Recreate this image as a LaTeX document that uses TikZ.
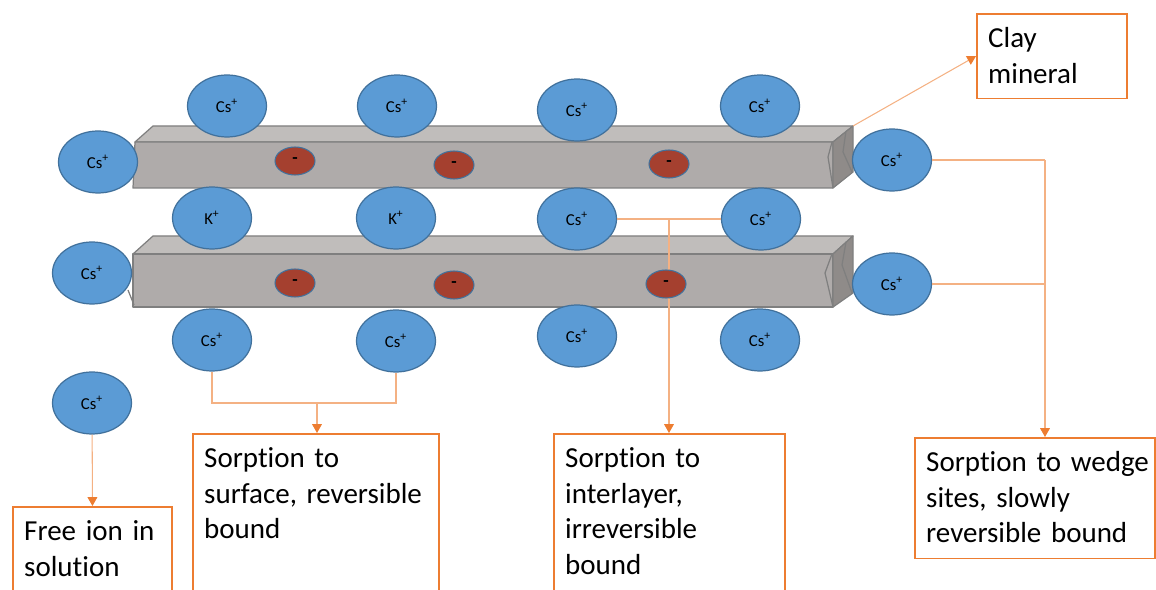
\documentclass[tikz,border=0pt]{standalone}
\usepackage{fontspec}
\setmainfont{Carlito}[Ligatures={NoCommon}]
\usetikzlibrary{arrows.meta, positioning, shapes.geometric}
\definecolor{clBlue}{HTML}{5B9BD5}
\definecolor{clBlueEdge}{HTML}{41719C}
\definecolor{clRust}{HTML}{A5402F}
\definecolor{clOrange}{HTML}{ED7D31}
\definecolor{clPeach}{HTML}{F4B183}
\definecolor{clTop}{HTML}{C0BDBB}
\definecolor{clFront}{HTML}{AFABAA}
\definecolor{clSide}{HTML}{8F8B89}
\definecolor{clEdge}{HTML}{7F7F7F}
\tikzset{
  ion/.style={
    ellipse, draw=clBlueEdge, line width=0.7pt, fill=clBlue,
    minimum width=1.58cm, minimum height=1.24cm, inner sep=0pt,
    font=\fontsize{9.5}{11}\selectfont, text=black
  },
  charge/.style={ellipse, draw=clBlueEdge, line width=0.6pt, fill=clRust,
    minimum width=0.8cm, minimum height=0.56cm, inner sep=0pt,
    font=\bfseries, text=black},
  note/.style={
    draw=clOrange, line width=0.9pt, fill=white, anchor=north west,
    align=left, inner xsep=6.5pt, inner ysep=7pt, text height=12pt,
    font=\fontsize{16.5}{20.4}\selectfont, text=black
  },
  slabline/.style={draw=clEdge, line width=0.7pt, line join=round},
  wire/.style={draw=clPeach, line width=0.6pt},
  flow/.style={wire, -{Triangle[length=5pt, width=5.5pt, color=clOrange]}},
}
\newcommand{\minus}{\raisebox{-2pt}{-}}

\begin{document}
\begin{tikzpicture}[x=0.02cm, y=-0.02cm]
  \useasboundingbox (0,0) rectangle (1156,590);
  \clip (0,0) rectangle (1156,590);

  % upper clay sheet
  \filldraw[slabline, fill=clTop] (135,142) -- (153,126) -- (853,126) -- (833,142) -- cycle;
  \filldraw[slabline, fill=clFront] (135,142) -- (833,142) -- (833,188) -- (133,188) -- cycle;
  \filldraw[slabline, fill=clSide] (833,142) -- (853,126) -- (853,172) -- (833,188) -- cycle;
  \draw[slabline] (832,142) -- (828,157) -- (833,188);
  \draw[slabline] (846,131) -- (843,152) -- (852,172);
  \coordinate (s1ne) at (853,126);

  % lower clay sheet
  \filldraw[slabline, fill=clTop] (133,254) -- (153,236) -- (853,236) -- (833,254) -- cycle;
  \filldraw[slabline, fill=clFront] (133,254) -- (833,254) -- (833,307) -- (133,307) -- cycle;
  \filldraw[slabline, fill=clSide] (833,254) -- (853,236) -- (853,293) -- (833,307) -- cycle;
  \draw[slabline] (832,254) -- (825,273) -- (833,307);
  \draw[slabline] (846,242) -- (842,265) -- (852,293);
  \draw[slabline] (128,290) -- (134,305);

  % boxes
  \node[note, text width=72.6pt, text depth=22.2pt] (clay) at (976,13) {Clay\\mineral};
  \node[note, text width=77.7pt, text depth=27.3pt] (free) at (12,506) {Free ion in\\solution};
  \node[note, text width=127pt, text depth=68.7pt] (surf) at (192,433)
    {Sorption to\\surface, reversible\\bound};
  \node[note, text width=118.5pt, text depth=68.7pt] (inter) at (553,433)
    {Sorption to\\interlayer,\\irreversible\\bound};
  \node[note, text width=123.6pt, text depth=42.6pt] (wedge) at (914,437)
    {Sorption~to~wedge\\sites, slowly\\reversible~bound};

  % connectors
  \coordinate (sj) at (317,403);
  \coordinate (ij) at (669,219);
  \coordinate (wj) at (1045,160);
  \draw[flow] (s1ne) -- (clay.west);
  \draw[flow] (ij) -- (ij |- inter.north);
  \draw[flow] (wj) -- (wj |- wedge.north);

  % layer charges
  \node[charge] (c1) at (295,161) {\minus};
  \node[charge] (c2) at (454,165) {\minus};
  \node[charge] (c3) at (669,164) {\minus};
  \node[charge] (c4) at (295,283) {\minus};
  \node[charge] (c5) at (454,285) {\minus};
  \node[charge] (c6) at (666,284) {\minus};

  % cations
  \node[ion] (t1) at (227,106) {Cs\textsuperscript{+}};
  \node[ion] (t2) at (397,106) {Cs\textsuperscript{+}};
  \node[ion] (t3) at (577,110) {Cs\textsuperscript{+}};
  \node[ion] (t4) at (760,106) {Cs\textsuperscript{+}};
  \node[ion] (l1) at (98,162) {Cs\textsuperscript{+}};
  \node[ion] (r1) at (892,160) {Cs\textsuperscript{+}};
  \node[ion] (m1) at (212,218) {K\textsuperscript{+}};
  \node[ion] (m2) at (396,218) {K\textsuperscript{+}};
  \node[ion] (m3) at (577,219) {Cs\textsuperscript{+}};
  \node[ion] (m4) at (761,219) {Cs\textsuperscript{+}};
  \node[ion] (l2) at (92,273) {Cs\textsuperscript{+}};
  \node[ion] (r2) at (892,284) {Cs\textsuperscript{+}};
  \node[ion] (b1) at (212,340) {Cs\textsuperscript{+}};
  \node[ion] (b2) at (396,341) {Cs\textsuperscript{+}};
  \node[ion] (b3) at (577,336) {Cs\textsuperscript{+}};
  \node[ion] (b4) at (760,340) {Cs\textsuperscript{+}};
  \node[ion] (f) at (92,403) {Cs\textsuperscript{+}};

  \draw[flow] (f) -- (free.north);
  \draw[wire] (b1.south) |- (sj) -| (b2.south);
  \draw[flow] (sj) -- (sj |- surf.north);
  \draw[wire] (m3.east) -- (m4.west);
  \draw[wire] (r1.east) -- (wj);
  \draw[wire] (r2.east) -- (r2.east -| wj);
\end{tikzpicture}
\end{document}
